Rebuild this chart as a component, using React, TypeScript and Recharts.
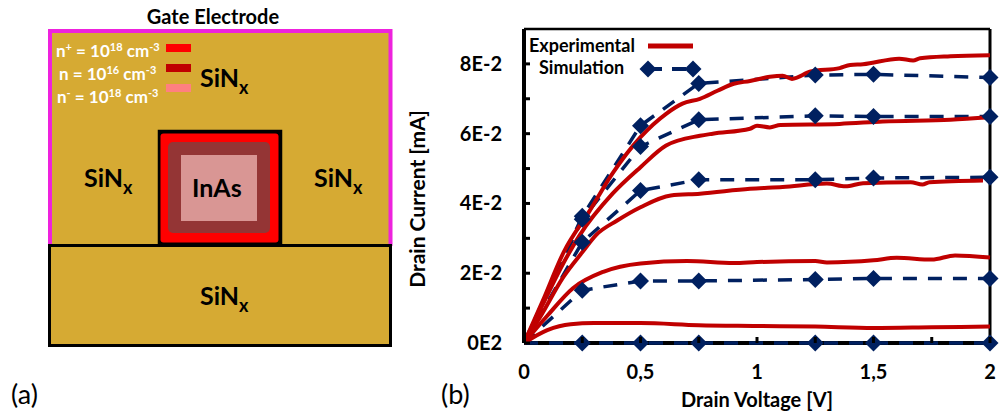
import React from "react";
import {
  LineChart,
  Line,
  XAxis,
  YAxis,
  Legend,
  ReferenceLine,
} from "recharts";

const RED = "#c00000";
const NAVY = "#002060";
const SAND = "#d6aa33";
const FONT = "Lato, 'Open Sans', sans-serif";

// drain current is in units of 1E-2 mA
const simX = [0, 0.25, 0.5, 0.75, 1.25, 1.5, 2];
const sim1 = [0, 0, 0, 0, 0, 0, 0];
const sim2 = [0, 1.51, 1.78, 1.78, 1.82, 1.85, 1.85];
const sim3 = [0, 2.89, 4.37, 4.68, 4.68, 4.73, 4.75];
const sim4 = [0, 3.55, 5.63, 6.4, 6.51, 6.49, 6.49];
const sim5 = [0, 3.63, 6.23, 7.44, 7.68, 7.7, 7.61];

const exp1X = [0, 0.1, 0.2, 0.3, 0.5, 0.75, 1, 1.25, 1.5, 1.75, 2];
const exp1 = [0, 0.37, 0.54, 0.57, 0.57, 0.51, 0.49, 0.47, 0.43, 0.45, 0.47];

const exp2X = [0, 0.1, 0.21, 0.34, 0.5, 0.7, 0.9, 1, 1.25, 1.3, 1.5, 1.6, 1.75, 1.85, 2];
const exp2 = [0, 0.78, 1.57, 2.04, 2.28, 2.35, 2.29, 2.32, 2.35, 2.31, 2.37, 2.44, 2.39, 2.51, 2.45];

const exp3X = [0, 0.07, 0.17, 0.25, 0.31, 0.4, 0.5, 0.63, 0.755, 0.97, 1.11, 1.3, 1.38, 1.455, 1.66, 1.71, 1.74, 1.97];
const exp3 = [0, 0.75, 1.9, 2.6, 3.1, 3.51, 3.89, 4.23, 4.28, 4.42, 4.47, 4.57, 4.49, 4.58, 4.61, 4.54, 4.61, 4.66];

const exp4X = [0, 0.08, 0.17, 0.24, 0.38, 0.5, 0.61, 0.755, 0.81, 0.97, 1, 1.055, 1.1, 1.355, 1.54, 1.83, 2];
const exp4 = [0, 1.1, 2.3, 3.1, 4.28, 5.04, 5.66, 5.94, 6, 6.14, 6.23, 6.18, 6.25, 6.28, 6.35, 6.4, 6.47];

const exp5X = [0, 0.08, 0.17, 0.283, 0.38, 0.5, 0.61, 0.68, 0.755, 0.83, 0.9, 0.97, 1.055, 1.11, 1.15, 1.23, 1.355, 1.4, 1.455, 1.61, 1.67, 1.7, 1.83, 2];
const exp5 = [0, 1.2, 2.6, 3.8, 4.86, 5.9, 6.57, 6.86, 7, 7.23, 7.43, 7.51, 7.63, 7.66, 7.57, 7.78, 7.88, 7.97, 7.99, 8.15, 8.1, 8.16, 8.22, 8.25];

const baselineX = [0, 2];
const baselineY = [0, 0];

const xTicks = [0, 0.25, 0.5, 0.75, 1, 1.25, 1.5, 1.75, 2];
const xLabels = ["0", "", "0,5", "", "1", "", "1,5", "", "2"];
const yTicks = [0, 1, 2, 3, 4, 5, 6, 7, 8];
const yLabels = ["0E2", "", "2E-2", "", "4E-2", "", "6E-2", "", "8E-2"];

const toRows = (xs: number[], ys: number[]) => xs.map((x, i) => ({ x, y: ys[i] }));

const simSeries = [sim1, sim2, sim3, sim4, sim5];
const expSeries = [
  toRows(exp1X, exp1),
  toRows(exp2X, exp2),
  toRows(exp3X, exp3),
  toRows(exp4X, exp4),
  toRows(exp5X, exp5),
];

function Diamond({ cx, cy, payload }: any) {
  if (!payload || payload.x === 0) return <g />;
  return <path d={`M${cx - 8.5} ${cy}L${cx} ${cy - 8.5}L${cx + 8.5} ${cy}L${cx} ${cy + 8.5}Z`} fill={NAVY} />;
}

// ticks point into the plot, so the marks are offset back past the axis
function XTick({ x, y, index }: any) {
  return (
    <g>
      <line x1={x} x2={x} y1={y - 14} y2={y - 8} stroke="#000" strokeWidth={3} />
      <text x={x} y={y + 28} textAnchor="middle" fontFamily={FONT} fontWeight={700} fontSize={20} fill="#000">
        {xLabels[index]}
      </text>
    </g>
  );
}

function YTick({ x, y, index }: any) {
  return (
    <g>
      <line x1={x + 8} x2={x + 14} y1={y} y2={y} stroke="#000" strokeWidth={3} />
      <text x={x - 14} y={y + 7} textAnchor="end" fontFamily={FONT} fontWeight={700} fontSize={20} fill="#000">
        {yLabels[index]}
      </text>
    </g>
  );
}

function LegendBox() {
  const labelStyle = { fontFamily: FONT, fontWeight: 700, fontSize: 18, fill: "#000" };
  return (
    <svg width={180} height={50} style={{ display: "block" }}>
      <text x={5} y={18} {...labelStyle}>Experimental</text>
      <line x1={124} x2={169} y1={12} y2={12} stroke={RED} strokeWidth={5} />
      <text x={15} y={40} {...labelStyle}>Simulation</text>
      <line x1={124} x2={169} y1={35} y2={35} stroke={NAVY} strokeWidth={4} strokeDasharray="14 10" />
      <Diamond cx={124} cy={35} payload={{ x: 1 }} />
      <Diamond cx={169} cy={35} payload={{ x: 1 }} />
    </svg>
  );
}

function Sinx({ x, y }: { x: number; y: number }) {
  return (
    <text x={x} y={y} fontFamily={FONT} fontWeight={700} fontSize={25} fill="#000">
      SiN
      <tspan dy={7} fontSize={18}>x</tspan>
    </text>
  );
}

function Doping({ x, y, sign, exp }: { x: number; y: number; sign: string; exp: string }) {
  return (
    <text x={x} y={y} fontFamily={FONT} fontWeight={700} fontSize={17} fill="#fff">
      n
      {sign ? <tspan dy={-6} fontSize={11}>{sign}</tspan> : null}
      <tspan dy={sign ? 6 : 0}> = 10</tspan>
      <tspan dy={-6} fontSize={11}>{exp}</tspan>
      <tspan dy={6}> cm</tspan>
      <tspan dy={-6} fontSize={11}>-3</tspan>
    </text>
  );
}

function DeviceSketch() {
  return (
    <svg width={1000} height={414} style={{ position: "absolute", left: 0, top: 0 }}>
      <rect x={50} y={31} width={341} height={215} fill={SAND} />
      <path d="M50 246V31H390.5V246" fill="none" stroke="#ee22dd" strokeWidth={4} />
      <rect x={49.5} y={245.5} width={341} height={100} fill={SAND} stroke="#000" strokeWidth={3} />
      <rect x={159} y={131} width={122} height={114} fill="#000" stroke="#000" strokeWidth={2.5} />
      <rect x={160.5} y={133.5} width={118} height={109} rx={3} fill="#ff0000" />
      <rect x={168} y={142} width={102} height={91} rx={5} fill="#943535" />
      <rect x={181} y={155} width={76} height={66} fill="#d99694" />
      <rect x={166} y={44} width={25} height={8} fill="#ff0000" />
      <rect x={166} y={64} width={25} height={8} fill="#c00000" />
      <rect x={166} y={84} width={25} height={8} fill="#ff8080" />
      <text x={213} y={24} textAnchor="middle" fontFamily={FONT} fontWeight={700} fontSize={20} fill="#000">
        Gate Electrode
      </text>
      <Doping x={56} y={57} sign="+" exp="18" />
      <Doping x={59} y={80} sign="" exp="16" />
      <Doping x={57} y={103} sign="-" exp="18" />
      <Sinx x={200} y={87} />
      <Sinx x={84} y={187} />
      <Sinx x={314} y={187} />
      <Sinx x={200} y={305} />
      <text x={192} y={197} fontFamily={FONT} fontWeight={700} fontSize={25} fill="#000">InAs</text>
      <text x={11} y={404} fontFamily={FONT} fontSize={27} fill="#000">(a)</text>
      <text x={441} y={404} fontFamily={FONT} fontSize={27} fill="#000">(b)</text>
    </svg>
  );
}

export default function App() {
  return (
    <div style={{ position: "absolute", left: 0, top: 0, width: 1000, height: 414, background: "#fff", overflow: "hidden" }}>
      <DeviceSketch />
      <div style={{ position: "absolute", left: 0, top: 0 }}>
        <LineChart width={1000} height={414} margin={{ top: 29, right: 10, bottom: 41, left: 400 }}>
          <XAxis
            dataKey="x"
            type="number"
            domain={[0, 2]}
            ticks={xTicks}
            height={30}
            allowDuplicatedCategory={false}
            axisLine={false}
            tickLine={false}
            tick={<XTick />}
            interval={0}
            label={{
              value: "Drain Voltage [V]",
              position: "insideBottom",
              offset: -34,
              style: { fontFamily: FONT, fontWeight: 700, fontSize: 20, fill: "#000" },
            }}
          />
          <YAxis
            type="number"
            domain={[0, 9]}
            ticks={yTicks}
            width={124}
            axisLine={{ stroke: "#000", strokeWidth: 4 }}
            tickLine={false}
            tick={<YTick />}
            interval={0}
            label={{
              value: "Drain Current [mA]",
              angle: -90,
              position: "insideLeft",
              offset: 18,
              dy: 13,
              style: { fontFamily: FONT, fontWeight: 700, fontSize: 21, fill: "#000", textAnchor: "middle" },
            }}
          />
          <ReferenceLine x={2} stroke="#000" strokeWidth={3} />
          <ReferenceLine y={9} stroke="#000" strokeWidth={2.5} />
          <Legend
            layout="horizontal"
            align="center"
            verticalAlign="middle"
            content={<LegendBox />}
            wrapperStyle={{ position: "absolute", left: 524, top: 34, width: 180 }}
          />
          <Line
            data={toRows(baselineX, baselineY)}
            dataKey="y"
            type="linear"
            stroke="#000"
            strokeWidth={4}
            dot={false}
            activeDot={false}
            isAnimationActive={false}
            legendType="none"
          />
          {simSeries.map((ys, i) => (
            <Line
              key={`sim-${i}`}
              data={toRows(simX, ys)}
              dataKey="y"
              type="linear"
              stroke={NAVY}
              strokeWidth={3.5}
              strokeDasharray="14 11"
              dot={<Diamond />}
              activeDot={false}
              isAnimationActive={false}
              legendType="none"
            />
          ))}
          {expSeries.map((rows, i) => (
            <Line
              key={`exp-${i}`}
              data={rows}
              dataKey="y"
              type="monotone"
              stroke={RED}
              strokeWidth={4}
              dot={false}
              activeDot={false}
              isAnimationActive={false}
              legendType="none"
            />
          ))}
        </LineChart>
      </div>
    </div>
  );
}
